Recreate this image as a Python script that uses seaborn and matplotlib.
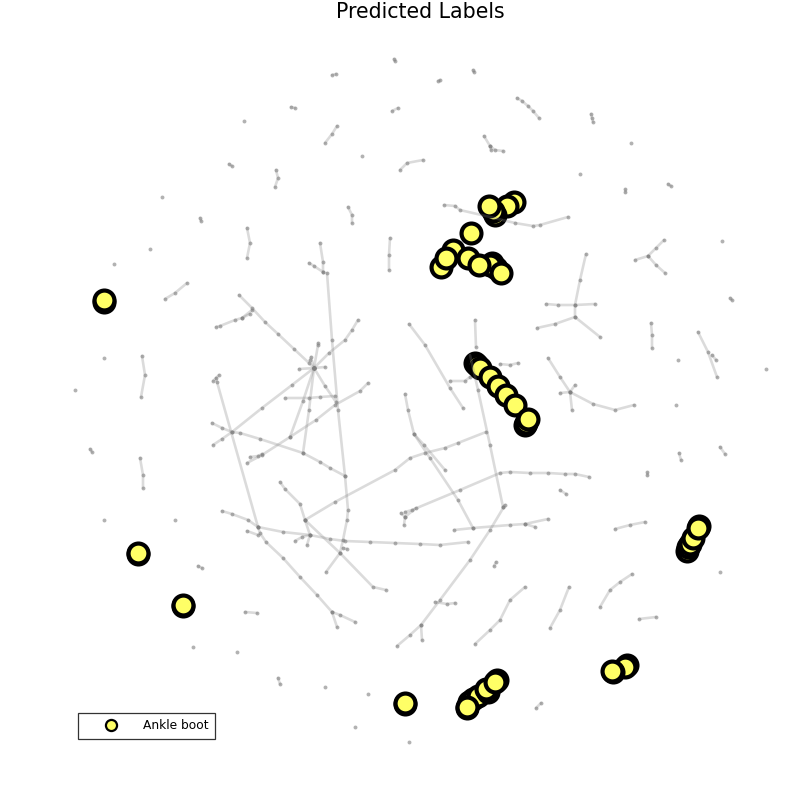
import pandas as pd
import matplotlib
matplotlib.use("Agg")
import matplotlib.pyplot as plt
from matplotlib.lines import Line2D
import seaborn as sns

# graph layout, one list per chain of nodes
left_chains = [
    [(239,295),(252,308),(265,322),(278,334),(294,349),(309,363),(314,368)],
    [(358,320),(352,330),(345,340),(329,353),(314,368),(292,385),(262,408),(232,432),(222,439),(213,445)],
    [(314,368),(303,401),(290,437)],
    [(314,368),(309,410),(303,453)],
    [(314,368),(325,386),(336,402)],
    [(314,368),(318,345),(318,343)],
    [(314,368),(311,357),(310,360)],
    [(299,369),(314,368),(325,367)],
    [(285,398),(309,398),(320,397),(335,396)],
    [(368,383),(360,391),(335,405),(316,420),(290,437),(262,455),(247,463)],
    [(250,457),(258,456),(262,454)],
    [(212,423),(222,428),(232,432),(240,433),(260,439),(303,453),(320,462),(330,468),(345,476)],
    [(327,273),(332,340),(338,410),(345,476),(348,510),(347,520),(343,540),(340,553),(326,572)],
    [(216,378),(217,382),(258,527)],
    [(213,381),(219,375)],
    [(216,327),(220,326),(235,320),(242,318),(250,314)],
    [(242,318),(252,310)],
    [(280,482),(285,489),(300,504),(305,520),(310,535)],
    [(305,520),(335,502),(395,470),(410,458),(425,453),(445,448),(458,443),(486,432)],
    [(305,520),(340,553),(373,587),(386,590)],
    [(222,511),(232,514),(248,520),(258,527),(283,532),(310,535),(330,539),(345,541),(370,542),(395,543),(420,544),(440,545),(468,542)],
    [(258,527),(260,533),(266,542),(283,558),(300,577),(317,595),(332,612),(340,615),(355,622)],
    [(332,612),(337,627)],
    [(247,531),(258,535)],
    [(295,541),(302,537),(310,535),(307,545)],
    [(343,548),(347,549)],
    [(245,612),(257,613)],
]

middle_chains = [
    [(405,394),(408,410),(414,434),(430,458),(458,500),(473,528)],
    [(414,434),(424,445),(445,470)],
    [(409,324),(425,345),(450,388),(463,408)],
    [(470,355),(478,390),(490,445),(503,507)],
    [(503,507),(505,505),(490,530),(470,560),(440,600),(421,625),(410,635),(397,646)],
    [(421,625),(422,640)],
    [(405,512),(412,510),(460,490),(500,473),(510,472),(530,473),(548,473),(565,474),(575,474),(589,477)],
    [(401,513),(405,517),(404,525)],
    [(405,517),(416,508)],
    [(454,530),(473,528),(510,525),(525,524),(548,519)],
    [(525,524),(535,527)],
    [(475,320),(476,347)],
    [(450,381),(465,381),(470,377)],
    [(500,364),(510,365),(518,363)],
    [(444,205),(455,206),(460,210),(490,217),(515,223),(533,226),(540,225),(568,217)],
    [(320,243),(323,262),(323,272)],
    [(309,263),(314,266),(323,272)],
    [(390,238),(389,255),(389,270)],
]

right_chains = [
    [(548,358),(560,377),(570,392),(572,410)],
    [(560,393),(570,392),(593,404),(615,410),(634,405)],
    [(570,392),(575,385)],
    [(586,254),(580,280),(575,305),(575,317),(555,324),(537,328)],
    [(546,304),(558,305),(575,305),(595,304)],
    [(575,317),(600,337)],
    [(635,260),(648,256),(656,248),(664,240)],
    [(648,256),(656,265),(665,273)],
    [(651,323),(652,335),(652,348)],
    [(698,332),(708,352),(717,377)],
    [(712,355),(716,360)],
    [(615,529),(630,525),(645,522)],
    [(639,619),(656,617)],
    [(600,607),(610,590),(620,582),(632,574)],
    [(550,628),(560,610),(569,587)],
    [(475,644),(490,630),(500,620),(510,600),(525,587)],
    [(435,602),(447,604),(455,603)],
    [(494,566),(496,562)],
    [(560,490),(566,494)],
    [(536,708),(541,703)],
    [(647,472),(647,475)],
    [(679,453),(681,460)],
    [(720,447),(725,454)],
    [(730,298),(732,300)],
]

outer_chains = [
    [(332,75),(336,74)],
    [(394,59),(395,61)],
    [(438,81),(440,80)],
    [(473,70),(474,72)],
    [(517,98),(522,101),(528,106),(533,111),(539,118)],
    [(591,114),(592,118),(593,122)],
    [(668,184),(671,186)],
    [(625,189),(625,192)],
    [(291,107),(295,108)],
    [(392,111),(398,108)],
    [(325,143),(332,134),(337,126)],
    [(484,136),(490,146),(495,150),(503,151)],
    [(490,146),(491,150)],
    [(400,170),(407,163),(423,160)],
    [(229,164),(232,166)],
    [(276,170),(278,178),(275,187)],
    [(200,218),(201,221)],
    [(348,207),(352,215),(352,223)],
    [(247,228),(250,243),(247,258)],
    [(165,299),(175,293),(187,283)],
    [(278,678),(280,684)],
    [(198,566),(202,568)],
    [(90,449),(92,452)],
    [(140,458),(143,475),(143,488)],
    [(142,356),(145,375),(141,397)],
]

lone_x = [244, 631, 580, 362, 162, 150, 114, 722, 678, 676, 766, 720, 325, 237, 193, 368, 355, 409, 175, 104, 104, 75]
lone_y = [121, 143, 174, 156, 197, 249, 264, 241, 360, 405, 369, 572, 687, 652, 647, 694, 727, 742, 520, 520, 358, 390]

# predicted "Ankle boot" points, drawn in this order (back to front)
boot_x = [514, 507, 495, 493, 489, 471, 441, 453, 446, 468, 496, 492, 490, 479, 501,
          475, 477, 480, 490, 498, 506, 515, 525, 526, 528,
          687, 688, 690, 693, 699, 698, 627, 625, 613, 612,
          467, 469, 473, 478, 488, 486, 497, 495, 467,
          104, 104, 138, 138, 183, 183, 405, 405]
boot_y = [202, 206, 215, 211, 206, 233, 267, 250, 258, 258, 268, 263, 265, 265, 273,
          363, 365, 368, 377, 386, 395, 405, 425, 423, 419,
          551, 547, 544, 538, 526, 528, 665, 667, 672, 671,
          708, 702, 699, 696, 692, 689, 680, 682, 707,
          302, 300, 554, 553, 606, 605, 704, 703]

legend_label = "Ankle boot"
boot_color = "#ffff66"

sns.set_style("white")
plt.rcParams["text.color"] = "black"

rows = []
for group in [left_chains, middle_chains, right_chains, outer_chains]:
    for chain in group:
        chain_id = len(set(r[0] for r in rows))
        for px, py in chain:
            rows.append((chain_id, px, py))
edges = pd.DataFrame(rows, columns=["chain", "x", "y"])
boots = pd.DataFrame({"x": boot_x, "y": boot_y})

fig = plt.figure(figsize=(7.99, 8.0), dpi=100)
ax = fig.add_axes([0, 0, 1, 1])

sns.lineplot(ax=ax, data=edges, x="x", y="y", units="chain", estimator=None, sort=False,
             color="gray", alpha=0.28, lw=1.9, legend=False)
sns.scatterplot(ax=ax, data=edges, x="x", y="y", color="gray", alpha=0.6, s=8, linewidth=0, legend=False)
sns.scatterplot(ax=ax, x=lone_x, y=lone_y, color="gray", alpha=0.6, s=8, linewidth=0, legend=False)
sns.scatterplot(ax=ax, data=boots, x="x", y="y", color=boot_color, edgecolor="black", s=205, linewidth=3.0, legend=False)

ax.set_xlim(0, 799)
ax.set_ylim(800, 0)
ax.axis("off")
ax.text(420, 12, "Predicted Labels", fontsize=14.8, ha="center", va="center")

handle = Line2D([], [], ls="none", marker="o", ms=8, mfc=boot_color, mec="black", mew=1.6)
leg = ax.legend([handle], [legend_label], loc="lower left", bbox_to_anchor=(78/799, 1-739/800),
                fontsize=8.8, frameon=True, fancybox=False, edgecolor="#333333", framealpha=1,
                borderaxespad=0, handlelength=4.3, handletextpad=0.45, borderpad=0.55)
leg.get_frame().set_linewidth(0.9)

fig.savefig("out.png", dpi=100)
